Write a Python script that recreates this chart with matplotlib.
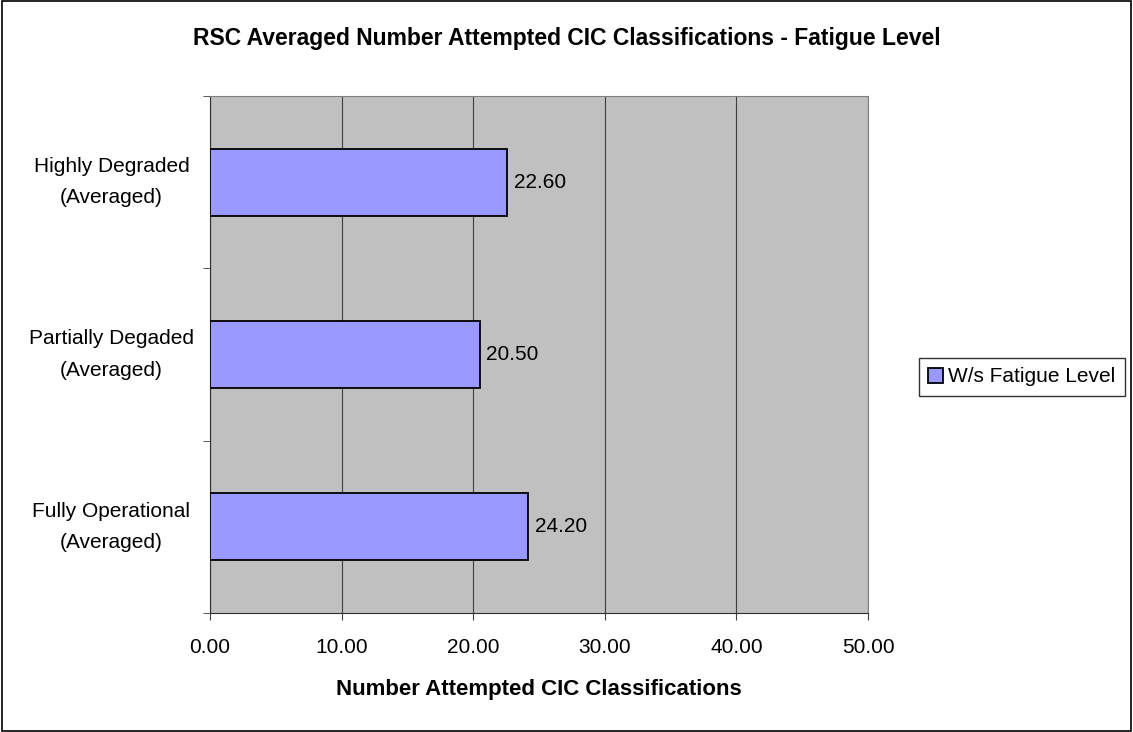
import matplotlib.pyplot as plt
from matplotlib.patches import Rectangle

plt.rcParams['font.family'] = ['Liberation Sans', 'DejaVu Sans']

categories = ['Fully Operational\n(Averaged)', 'Partially Degaded\n(Averaged)', 'Highly Degraded\n(Averaged)']
values = [24.20, 20.50, 22.60]
xticks = [0, 10, 20, 30, 40, 50]
series_name = 'W/s Fatigue Level'

fs = 15

fig = plt.figure(figsize=(11.33, 7.32), dpi=100)
ax = fig.add_axes([210 / 1133, 1 - 613 / 732, 658 / 1133, 517 / 732])
ax.set_facecolor('#c0c0c0')

ax.barh(range(len(values)), values, height=0.39, color='#9999ff',
        edgecolor='black', linewidth=1.3, label=series_name, zorder=3)
for i, v in enumerate(values):
    ax.text(v + 0.5, i, f'{v:.2f}', va='center', ha='left', fontsize=fs)

ax.set_xlim(0, 50)
ax.set_ylim(-0.5, 2.5)
ax.set_xticks(xticks)
ax.set_xticklabels([f'{t:.2f}' for t in xticks], fontsize=fs)
ax.set_yticks(range(len(categories)))
ax.set_yticklabels(categories, fontsize=fs, ha='center', va='center', linespacing=1.8)
ax.tick_params(axis='y', length=0, pad=71)
ax.set_yticks([-0.5, 0.5, 1.5, 2.5], minor=True)
ax.tick_params(axis='y', which='minor', length=5, direction='out', color='#404040')
ax.tick_params(axis='x', length=5, direction='out', color='#404040', pad=13)
ax.grid(axis='x', color='#404040', linewidth=0.8, zorder=1)

ax.spines['top'].set_color('#808080')
ax.spines['right'].set_color('#808080')
ax.spines['left'].set_color('#303030')
ax.spines['bottom'].set_color('#303030')

ax.set_xlabel('Number Attempted CIC Classifications', fontsize=16,
              fontweight='bold', labelpad=16)
fig.suptitle('RSC Averaged Number Attempted CIC Classifications - Fatigue Level',
             fontsize=16.5, fontweight='bold', y=1 - 38 / 732, va='center')

leg = ax.legend(loc='center left', bbox_to_anchor=(919 / 1133, 355 / 732),
                bbox_transform=fig.transFigure, fontsize=fs, frameon=True,
                fancybox=False, edgecolor='black', handlelength=0.7,
                handleheight=0.7, handletextpad=0.25, borderpad=0.45,
                borderaxespad=0)
leg.get_frame().set_linewidth(1.0)

fig.patches.append(Rectangle((0.002, 0.002), 0.996, 0.996, transform=fig.transFigure,
                             fill=False, edgecolor='black', linewidth=1.2))

fig.savefig('out.png', dpi=100)
